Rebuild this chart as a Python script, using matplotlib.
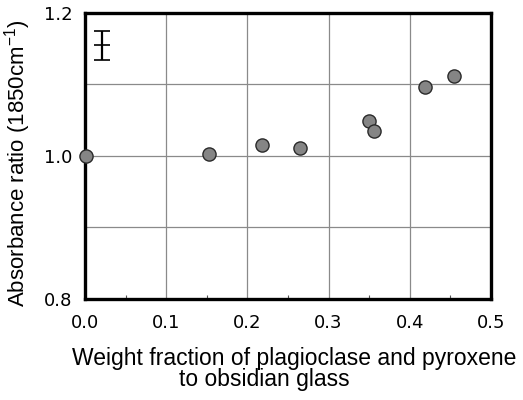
import matplotlib
matplotlib.use("Agg")
import matplotlib.pyplot as plt
from matplotlib.ticker import MultipleLocator

x_vals = [0.001, 0.153, 0.218, 0.265, 0.350, 0.356, 0.419, 0.454]
y_vals = [1.000, 1.003, 1.015, 1.011, 1.049, 1.034, 1.096, 1.111]
err_x = [0.021]
err_y = [1.154]
err_size = [0.02]
x_ticks = [0.0, 0.1, 0.2, 0.3, 0.4, 0.5]
x_tick_labels = ["0.0", "0.1", "0.2", "0.3", "0.4", "0.5"]
y_ticks = [0.8, 1.0, 1.2]
y_tick_labels = ["0.8", "1.0", "1.2"]

plt.rcParams["mathtext.default"] = "regular"

fig = plt.figure(figsize=(5.23, 4.0), dpi=100)
ax = fig.add_axes([85/523, 1 - 299/400, (491-85)/523, (299-12.5)/400])

ax.set_xlim(0, 0.5)
ax.set_ylim(0.8, 1.2)

for gx in [0.1, 0.2, 0.3, 0.4]:
    ax.axvline(gx, color="#8a8a8a", lw=0.9, zorder=1)
for gy in [0.9, 1.0, 1.1]:
    ax.axhline(gy, color="#8a8a8a", lw=0.9, zorder=1)

ax.scatter(x_vals, y_vals, s=90, facecolor="#858585", edgecolor="#2a2a2a",
           linewidth=1.0, zorder=3, clip_on=False)

ax.errorbar(err_x, err_y, yerr=err_size, fmt="none", ecolor="black",
            elinewidth=1.6, capsize=5.5, capthick=1.2, zorder=3)
ax.plot(err_x, err_y, marker="_", markersize=11, mew=1.2, color="black", zorder=3)

ax.set_xticks(x_ticks)
ax.set_xticklabels(x_tick_labels)
ax.set_yticks(y_ticks)
ax.set_yticklabels(y_tick_labels)
ax.xaxis.set_minor_locator(MultipleLocator(0.05))
ax.tick_params(axis="both", which="major", length=0, labelsize=13,
               labelcolor="black")
ax.tick_params(axis="x", which="major", pad=11)
ax.tick_params(axis="y", which="major", pad=9)
ax.tick_params(axis="x", which="minor", direction="in", length=3, width=0.8,
               color="#555555")
for lab in ax.get_xticklabels() + ax.get_yticklabels():
    lab.set_fontfamily("DejaVu Sans")

for sp in ax.spines.values():
    sp.set_linewidth(2.4)
    sp.set_color("black")

fig.text(18/523, 1 - 163/400, r"Absorbance ratio (1850cm$^{-1}$)",
         rotation=90, ha="center", va="center", fontsize=16,
         family="Liberation Sans")

fig.text(294/523, 1 - 365/400, "Weight fraction of plagioclase and pyroxene",
         ha="center", va="baseline", fontsize=16.5, family="Liberation Sans")
fig.text(264/523, 1 - 386/400, "to obsidian glass",
         ha="center", va="baseline", fontsize=16.5, family="Liberation Sans")

fig.savefig("out.png", dpi=100)
